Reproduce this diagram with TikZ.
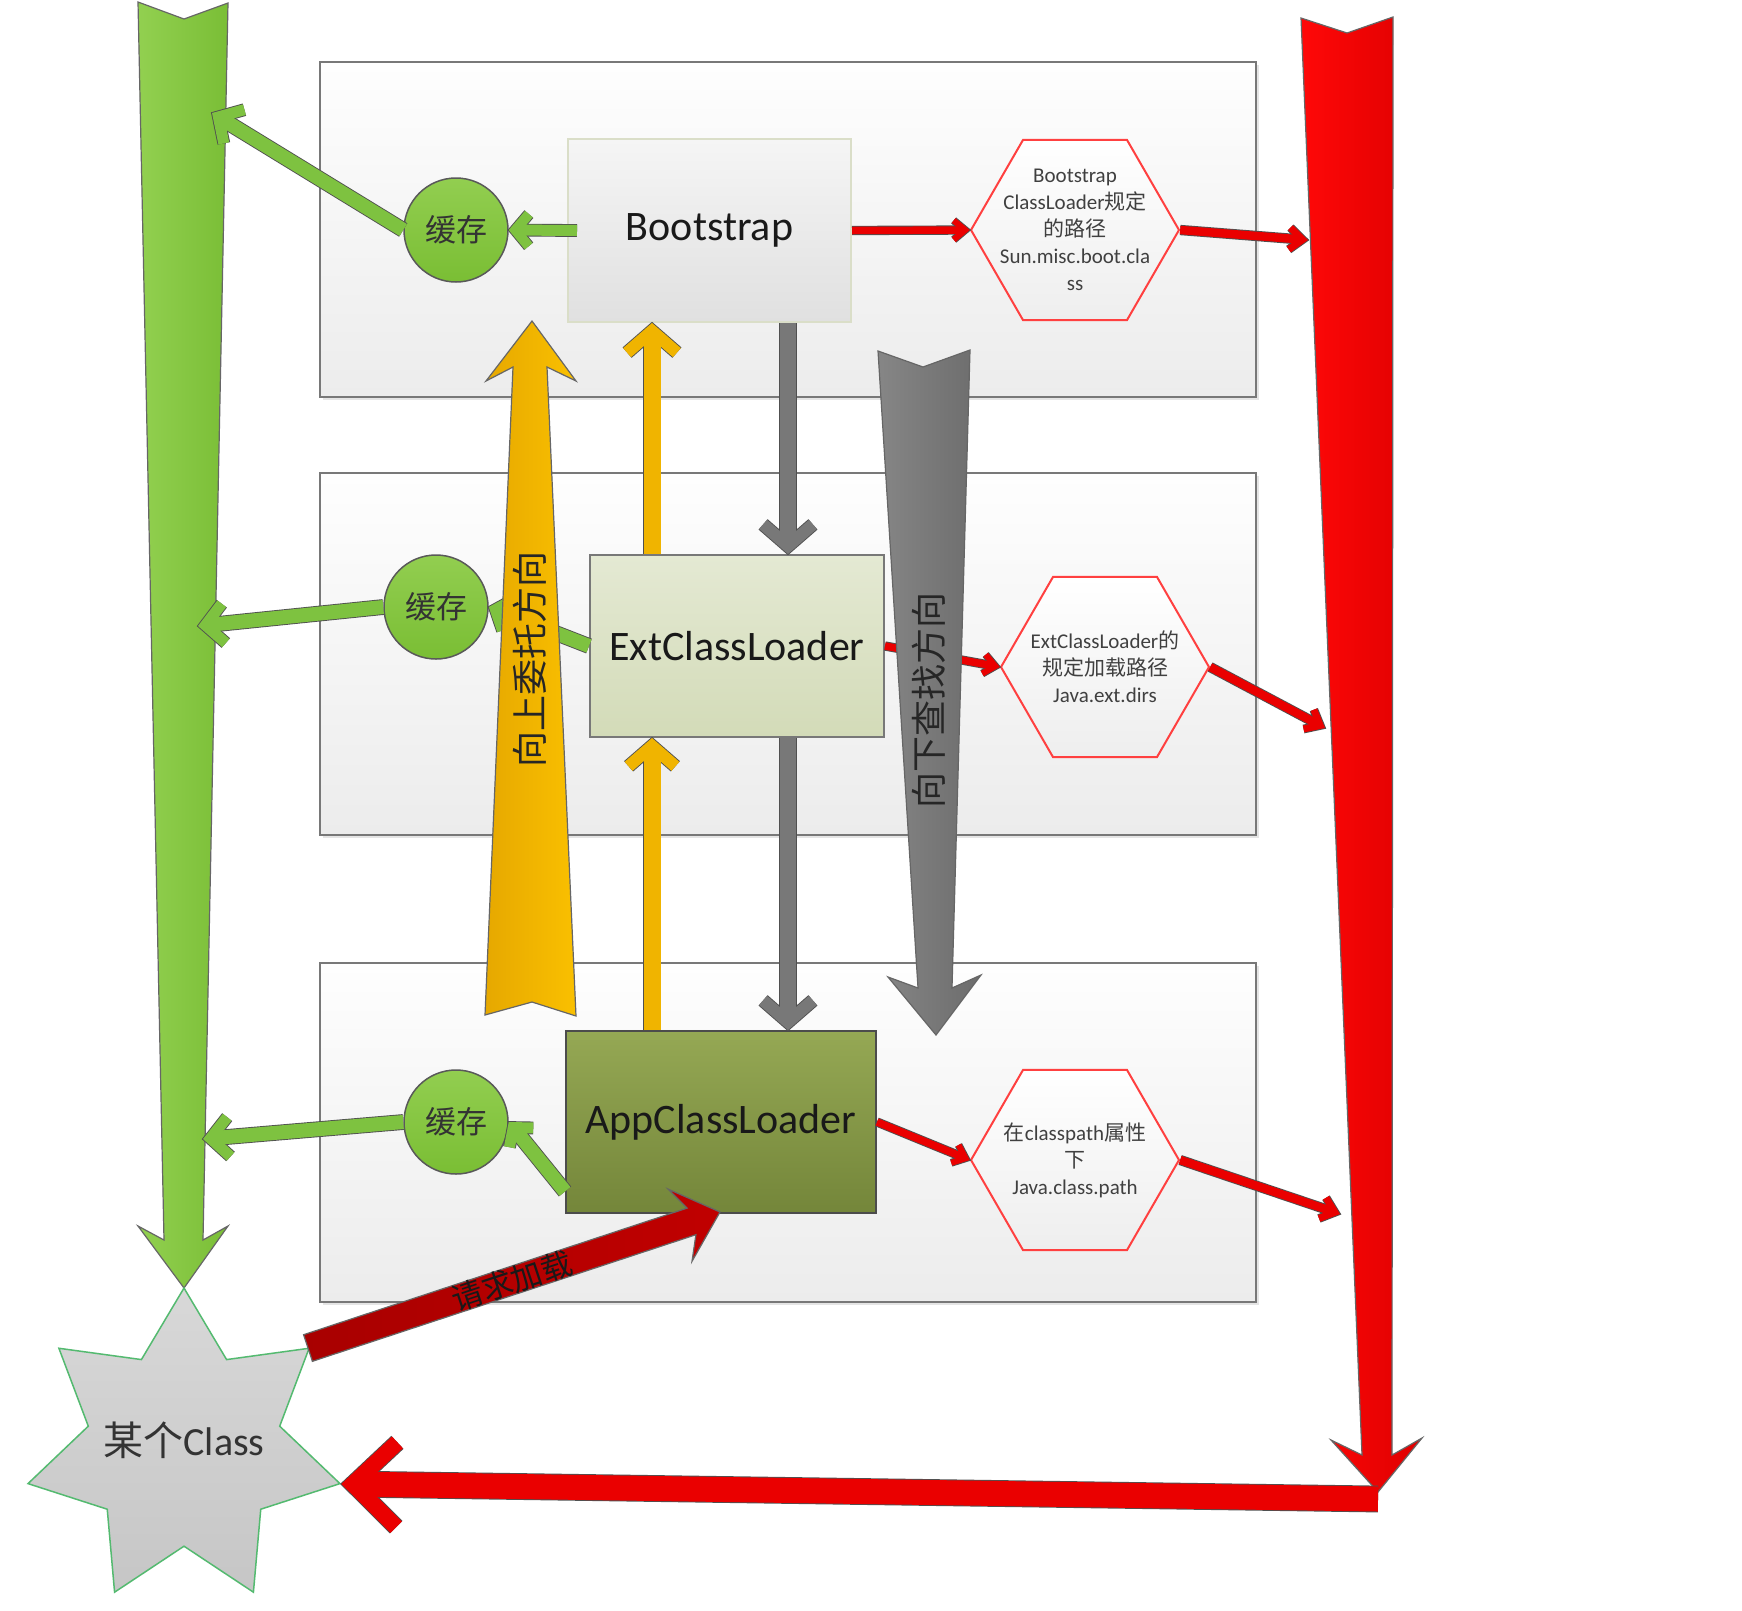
\documentclass[tikz,border=0pt]{standalone}
\usepackage{fontspec}
\setmainfont{Carlito}
\newfontfamily\cjk{Noto Sans CJK SC}
\usetikzlibrary{calc,shapes.geometric,shadows}

\definecolor{panelEdge}{RGB}{120,120,120}
\definecolor{panelTop}{RGB}{254,254,254}
\definecolor{panelBot}{RGB}{236,236,236}
\definecolor{bootTop}{RGB}{245,245,245}
\definecolor{bootBot}{RGB}{224,224,224}
\definecolor{bootEdge}{RGB}{218,222,200}
\definecolor{extTop}{RGB}{228,233,211}
\definecolor{extBot}{RGB}{211,219,184}
\definecolor{appTop}{RGB}{149,168,84}
\definecolor{appBot}{RGB}{116,134,58}
\definecolor{cacheTop}{RGB}{146,206,80}
\definecolor{cacheBot}{RGB}{122,190,52}
\definecolor{hexEdge}{RGB}{255,64,64}
\definecolor{hexBot}{RGB}{238,238,238}
\definecolor{hexText}{RGB}{64,64,64}
\definecolor{gbL}{RGB}{146,208,80}
\definecolor{gbR}{RGB}{122,190,54}
\definecolor{rbL}{RGB}{255,8,8}
\definecolor{rbR}{RGB}{222,0,0}
\definecolor{obL}{RGB}{230,168,0}
\definecolor{obR}{RGB}{250,192,0}
\definecolor{ybL}{RGB}{134,134,134}
\definecolor{ybR}{RGB}{108,108,108}
\definecolor{drL}{RGB}{168,0,0}
\definecolor{drR}{RGB}{192,0,0}
\definecolor{gthin}{RGB}{126,194,64}
\definecolor{othin}{RGB}{240,180,0}
\definecolor{ythin}{RGB}{120,120,120}
\definecolor{rthin}{RGB}{234,0,0}
\definecolor{connEdge}{RGB}{80,80,80}
\definecolor{starTop}{RGB}{216,216,216}
\definecolor{starBot}{RGB}{198,198,198}
\definecolor{starEdge}{RGB}{84,186,112}
\definecolor{ink}{RGB}{25,25,25}

\tikzset{
  panel/.style={draw=panelEdge, line width=2pt, top color=panelTop, bottom color=panelBot,
    drop shadow={shadow xshift=3pt, shadow yshift=-3pt, fill=black, opacity=.10}},
  loader/.style={line width=2pt, inner sep=0pt, font=\fontsize{42}{50}\selectfont, text=ink},
  cache/.style={circle, minimum size=104pt, inner sep=0pt, draw=black!65, line width=1.5pt,
    top color=cacheTop, bottom color=cacheBot, font=\cjk\fontsize{31}{36}\selectfont, text=black!80},
  hexa/.style={regular polygon, regular polygon sides=6, minimum size=208pt, inner sep=0pt,
    draw=hexEdge, line width=2pt, top color=white, bottom color=hexBot},
  hexlabel/.style={align=center, font=\fontsize{21}{27}\selectfont, text=hexText},
  classstar/.style={star, star points=7, star point ratio=1.63, minimum size=320pt, inner sep=0pt,
    draw=starEdge, line width=1.5pt, top color=starTop, bottom color=starBot},
  bigedge/.style={draw=black!60, line width=1.2pt, line join=miter},
  connline/.style={line join=miter, line cap=butt, miter limit=25},
  rottext/.style={font=\cjk\fontsize{36}{40}\selectfont, text=black!85, rotate=90},
}

% open-headed connector
% #1 colour, #2 shaft width, #3 wing width, #4 from, #5 to, #6 wing length, #7 half angle
\newcommand\chev[7]{%
  \pgfmathsetmacro\chevmo{(#3/2)/sin(#7)}%
  \pgfmathsetmacro\chevsd{min(((#2/2)/tan(#7)+2*\chevmo)/2, 2*\chevmo)}%
  \pgfmathsetmacro\chevow{#2+1.8}%
  \pgfmathsetmacro\chevww{#3+1.8}%
  \coordinate (chevV) at ($(#5)!\chevmo pt!(#4)$);%
  \coordinate (chevS) at ($(#5)!\chevsd pt!(#4)$);%
  \coordinate (chevA) at ($(chevV)!#6pt!#7:(#4)$);%
  \coordinate (chevB) at ($(chevV)!#6pt!-#7:(#4)$);%
  \draw[connline, draw=connEdge, line width=\chevow pt] (#4) -- (chevS);%
  \draw[connline, draw=connEdge, line width=\chevww pt] (chevA) -- (chevV) -- (chevB);%
  \draw[connline, draw=#1, line width=#2pt] (#4) -- (chevS);%
  \draw[connline, draw=#1, line width=#3pt] (chevA) -- (chevV) -- (chevB);%
}

\begin{document}
\begin{tikzpicture}[x=1pt,y=-1pt]
\fill[white] (0,0) rectangle (1742,1610);
\useasboundingbox (0,0) rectangle (1742,1610);

% panels
\node[panel, minimum width=936pt, minimum height=335pt] (p1) at (788,229.5) {};
\node[panel, minimum width=936pt, minimum height=362pt] (p2) at (788,654) {};
\node[panel, minimum width=936pt, minimum height=339pt] (p3) at (788,1132.5) {};

% big green arrow (down to the class)
\draw[bigedge, left color=gbL, right color=gbR]
  (138,2) -- (184,19) -- (228,3) -- (203,1240) -- (228,1226) -- (184,1288)
  -- (138,1226) -- (164,1240) -- cycle;
% big red arrow (down)
\draw[bigedge, left color=rbL, right color=rbR]
  (1301,18) -- (1347,33) -- (1393,17) -- (1392,1455) -- (1422,1438) -- (1378,1492)
  -- (1331,1440) -- (1362,1455) -- cycle;

% the class
\node[classstar, label={[font=\fontsize{40}{44}\selectfont, text=black!80, yshift=8pt]center:{{\cjk 某个}Class}}] (cls) at (184,1448) {};

% loaders
\node[loader, draw=bootEdge, top color=bootTop, bottom color=bootBot,
  minimum width=283pt, minimum height=183pt] (boot) at (709.5,230.5) {Bootstrap};
\node[loader, draw=panelEdge, top color=extTop, bottom color=extBot,
  minimum width=294pt, minimum height=182pt] (ext) at (737,646) {ExtClassLoader};
\node[loader, draw=black!70, top color=appTop, bottom color=appBot,
  minimum width=310pt, minimum height=182pt] (app) at (721,1122) {AppClassLoader};

% caches
\node[cache] (c1) at (456,230) {缓存};
\node[cache] (c2) at (436,607) {缓存};
\node[cache] (c3) at (456,1122) {缓存};

% hexagons
\node[hexa, label={[hexlabel]center:{Bootstrap\\ClassLoader{\cjk 规定}\\{\cjk 的路径}\\Sun.misc.boot.cla\\ss}}] (h1) at (1075,230) {};
\node[hexa, label={[hexlabel]center:{ExtClassLoader{\cjk 的}\\{\cjk 规定加载路径}\\Java.ext.dirs}}] (h2) at (1105,667) {};
\node[hexa, label={[hexlabel]center:{{\cjk 在}classpath{\cjk 属性}\\{\cjk 下}\\Java.class.path}}] (h3) at (1075,1160) {};

% helper coordinates
\coordinate (g1) at (212,113);
\coordinate (g2) at (198,626);
\coordinate (g3) at (203,1139);
\coordinate (r1) at (1308,240);
\coordinate (r2) at (1325,728);
\coordinate (r3) at (1340,1214);
\coordinate (gx) at (788,0);
\coordinate (ox) at (652,0);
\coordinate (bootL) at ([xshift=10pt]boot.west);
\coordinate (gb1) at (boot.south -| gx);
\coordinate (ge1) at (ext.north -| gx);
\coordinate (gb2) at (ext.south -| gx);
\coordinate (ge2) at (app.north -| gx);
\coordinate (ob1) at (app.north -| ox);
\coordinate (oe1) at (ext.south -| ox);
\coordinate (ob2) at (ext.north -| ox);
\coordinate (oe2) at (boot.south -| ox);
\coordinate (rbend) at (1378,1499);
\coordinate (starR) at (cls.outer point 6);

% green connectors
\chev{gthin}{11}{10}{bootL}{c1.east}{21}{50}
\chev{gthin}{14}{11}{c1.west}{g1}{27}{47}
\chev{gthin}{14}{11}{ext.west}{c2.east}{22}{50}
\chev{gthin}{14}{11}{c2.west}{g2}{27}{47}
\chev{gthin}{14}{11}{app.204}{c3.east}{20}{50}
\chev{gthin}{14}{11}{c3.west}{g3}{27}{47}

% red connectors
\chev{rthin}{7.5}{6}{boot.east}{h1.west}{15}{40}
\chev{rthin}{8.5}{7}{h1.east}{r1}{17}{40}
\chev{rthin}{7.5}{6}{ext.east}{h2.west}{15}{40}
\chev{rthin}{8.5}{7}{h2.east}{r2}{17}{40}
\chev{rthin}{7.5}{6}{app.east}{h3.west}{15}{40}
\chev{rthin}{8.5}{7}{h3.east}{r3}{17}{40}

% grey and orange connectors
\chev{ythin}{16}{12}{gb1}{ge1}{33}{49}
\chev{ythin}{16}{12}{gb2}{ge2}{33}{49}
\chev{othin}{17}{12}{ob1}{oe1}{31}{49}
\chev{othin}{17}{12}{ob2}{oe2}{33}{49}

% big orange arrow (up)
\draw[bigedge, left color=obL, right color=obR]
  (485,1015) -- (532,1002) -- (576,1016) -- (547,367) -- (576,381) -- (532,321)
  -- (486,381) -- (513,367) -- cycle;
\node[rottext] (upt) at (530,659) {向上委托方向};

% big grey arrow (down)
\draw[bigedge, left color=ybL, right color=ybR]
  (878,351) -- (923,367) -- (970,350) -- (952,988) -- (981,975) -- (936,1035)
  -- (888,977) -- (918,988) -- cycle;
\node[rottext] (downt) at (929,700) {向下查找方向};

% red arrow back to the class
\chev{rthin}{25}{16}{rbend}{starR}{61}{44}

% request arrow
\draw[bigedge, left color=drL, right color=drR]
  (303.6,1334.7) -- (687.1,1208.1) -- (668.2,1189.1) -- (720,1212) -- (692.0,1261.3)
  -- (695.9,1234.7) -- (312.4,1361.3) -- cycle;
\node[font=\cjk\fontsize{31}{34}\selectfont, text=black!90, rotate=18.3] (req) at (512,1281) {请求加载};
\end{tikzpicture}
\end{document}
